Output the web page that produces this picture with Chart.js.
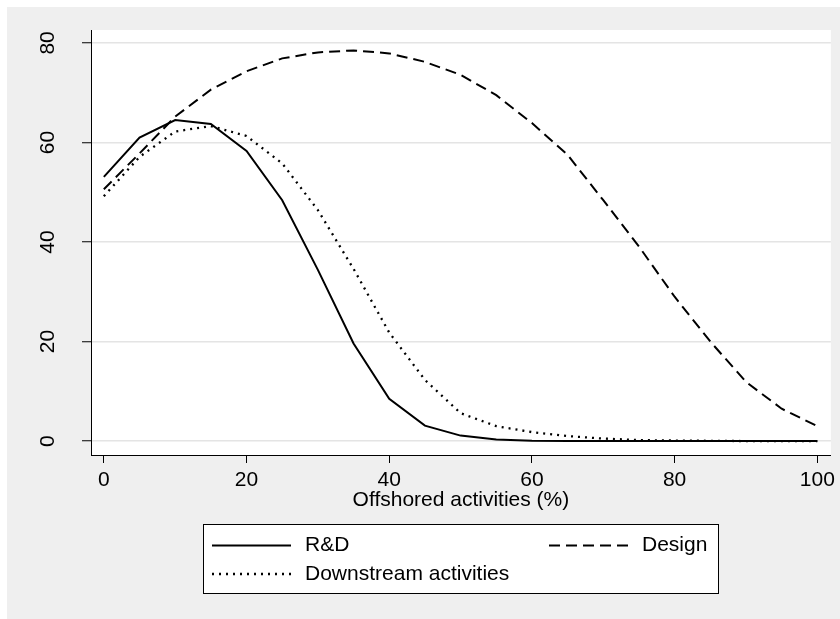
<!DOCTYPE html>
<html>
<head>
<meta charset="utf-8">
<script src="https://cdn.jsdelivr.net/npm/chart.js@4.4.0/dist/chart.umd.min.js"></script>
<style>
  html, body { margin: 0; padding: 0; background: #fff; }
</style>
</head>
<body>
<canvas id="chart" width="840" height="619"></canvas>
<script>
// share of offshored activities (%)
const shares = [0, 5, 10, 15, 20, 25, 30, 35, 40, 45, 50, 55, 60, 65, 70, 75, 80, 85, 90, 95, 100];
const rdValues = [53.1, 61.0, 64.5, 63.7, 58.3, 48.4, 34.4, 19.6, 8.5, 3.1, 1.1, 0.3, 0.05, 0, 0, 0, 0, 0, 0, 0, 0];
const designValues = [50.6, 57.8, 65.2, 70.6, 74.3, 76.9, 78.1, 78.5, 77.9, 76.2, 73.6, 69.5, 63.9, 57.5, 48.4, 39.1, 29.0, 20.0, 11.9, 6.5, 3.0];
const downstreamValues = [49.2, 57.1, 62.2, 63.3, 61.3, 55.8, 46.4, 34.6, 21.8, 12.3, 5.6, 3.0, 1.8, 1.0, 0.5, 0.2, 0.1, 0.05, 0, 0, 0];
const seriesNames = ['R&D', 'Design', 'Downstream activities'];
const xTicks = [0, 20, 40, 60, 80, 100];
const yTicks = [0, 20, 40, 60, 80];
const xTitle = 'Offshored activities (%)';

const FONT = '"Liberation Sans", Arial, sans-serif';

function pairs(ys) {
  return shares.map((x, i) => ({x: x, y: ys[i]}));
}

// stata-ish frame: grey outer box, white plot region
const backdrop = {
  id: 'backdrop',
  beforeDraw(chart) {
    const {ctx, chartArea: a} = chart;
    ctx.save();
    ctx.fillStyle = '#fff';
    ctx.fillRect(0, 0, chart.width, chart.height);
    ctx.fillStyle = '#efefef';
    ctx.fillRect(7, 7, chart.width - 7, chart.height - 7);
    ctx.fillStyle = '#fff';
    ctx.fillRect(a.left, a.top, a.right - a.left, a.bottom - a.top);
    ctx.restore();
  }
};

// y tick labels are rotated in the original
const yLabels = {
  id: 'yLabels',
  afterDraw(chart) {
    const {ctx} = chart;
    const y = chart.scales.y;
    ctx.save();
    ctx.font = '21px ' + FONT;
    ctx.fillStyle = '#000';
    ctx.textAlign = 'center';
    ctx.textBaseline = 'middle';
    y.ticks.forEach(t => {
      ctx.save();
      ctx.translate(48, y.getPixelForValue(t.value));
      ctx.rotate(-Math.PI / 2);
      ctx.fillText(String(t.value), 0, 0);
      ctx.restore();
    });
    ctx.restore();
  }
};

// boxed legend under the axis title, two columns
const boxLegend = {
  id: 'boxLegend',
  afterDraw(chart) {
    const {ctx} = chart;
    const slots = [[212, 545.5], [549, 545.5], [212, 574]];
    ctx.save();
    ctx.fillStyle = '#fff';
    ctx.fillRect(203.5, 524.5, 515, 69);
    ctx.strokeStyle = '#000';
    ctx.lineWidth = 1;
    ctx.strokeRect(203.5, 524.5, 515, 69);
    ctx.font = '21px ' + FONT;
    ctx.textBaseline = 'middle';
    ctx.textAlign = 'left';
    chart.data.datasets.forEach((ds, i) => {
      const [sx, sy] = slots[i];
      ctx.beginPath();
      ctx.setLineDash(ds.borderDash || []);
      ctx.lineWidth = ds.borderWidth;
      ctx.strokeStyle = ds.borderColor;
      ctx.moveTo(sx, sy);
      ctx.lineTo(sx + 79, sy);
      ctx.stroke();
      ctx.setLineDash([]);
      ctx.fillStyle = '#000';
      ctx.fillText(ds.label, sx + 93, sy);
    });
    ctx.restore();
  }
};

new Chart(document.getElementById('chart'), {
  type: 'line',
  data: {
    datasets: [
      {label: seriesNames[0], data: pairs(rdValues), borderColor: '#000', borderWidth: 2, borderDash: []},
      {label: seriesNames[1], data: pairs(designValues), borderColor: '#000', borderWidth: 2, borderDash: [11, 6]},
      {label: seriesNames[2], data: pairs(downstreamValues), borderColor: '#000', borderWidth: 2.3, borderDash: [2, 5]}
    ]
  },
  options: {
    responsive: false,
    animation: false,
    devicePixelRatio: 1,
    elements: {point: {radius: 0}, line: {tension: 0, fill: false}},
    layout: {padding: {left: 0, top: 30, right: 9, bottom: 106}},
    plugins: {legend: {display: false}, tooltip: {enabled: false}},
    scales: {
      x: {
        type: 'linear',
        min: -1.8,
        max: 101.9,
        afterBuildTicks: s => { s.ticks = xTicks.map(v => ({value: v})); },
        afterFit: s => { s.height = 58; },
        grid: {drawOnChartArea: false, drawTicks: true, tickLength: 8, tickColor: '#000', tickWidth: 1},
        border: {display: true, color: '#000', width: 1},
        ticks: {font: {family: FONT, size: 21}, color: '#000', padding: 5, maxRotation: 0, autoSkip: false},
        title: {display: true, text: xTitle, font: {family: FONT, size: 21}, color: '#000', padding: 0}
      },
      y: {
        type: 'linear',
        min: -2.8,
        max: 82.6,
        afterBuildTicks: s => { s.ticks = yTicks.map(v => ({value: v})); },
        afterFit: s => { s.width = 91; },
        grid: {color: '#e4e4e4', lineWidth: 1.5, drawTicks: true, tickLength: 9, tickColor: '#000', tickWidth: 1},
        border: {display: true, color: '#000', width: 1},
        ticks: {display: false}
      }
    }
  },
  plugins: [backdrop, yLabels, boxLegend]
});
</script>
</body>
</html>
